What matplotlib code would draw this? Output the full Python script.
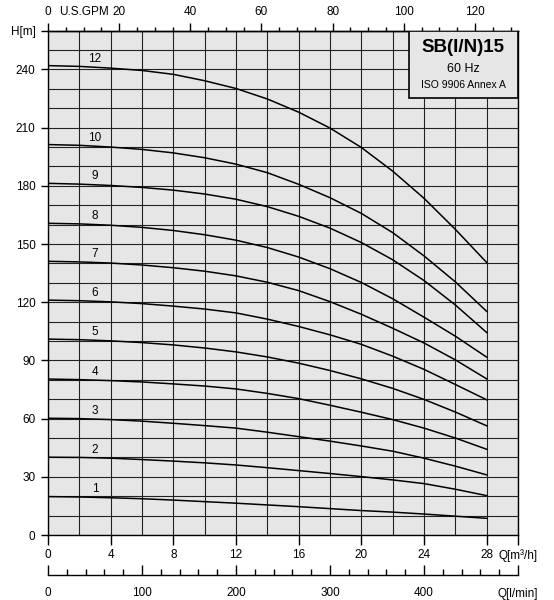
import matplotlib
matplotlib.use("Agg")
import matplotlib.pyplot as plt
from matplotlib.ticker import MultipleLocator
from matplotlib.patches import Rectangle

plt.rcParams['font.family'] = ['Liberation Sans', 'DejaVu Sans']
plt.rcParams['font.size'] = 8.5

# flow points [m3/h]
q = [0, 2, 4, 6, 8, 10, 12, 14, 16, 18, 20, 22, 24, 26, 28]

# head [m] for each number of stages
h1 = [19.8, 19.6, 19.2, 18.7, 18.0, 17.2, 16.4, 15.5, 14.6, 13.6, 12.6, 11.8, 10.8, 9.7, 8.6]
h2 = [40.1, 40.0, 39.6, 38.9, 38.1, 37.2, 36.1, 34.7, 33.2, 31.7, 30.1, 28.4, 26.5, 23.6, 20.3]
h3 = [60.2, 60.0, 59.5, 58.7, 57.6, 56.4, 55.1, 53.0, 50.7, 48.4, 45.9, 43.2, 39.6, 35.5, 31.0]
h4 = [80.4, 80.1, 79.6, 78.9, 77.9, 76.8, 75.3, 73.0, 70.3, 66.9, 63.3, 59.5, 55.1, 50.0, 44.2]
h5 = [101.0, 100.7, 100.1, 99.2, 98.0, 96.4, 94.4, 91.8, 88.6, 84.8, 80.5, 75.6, 69.9, 63.4, 56.3]
h6 = [121.1, 120.8, 120.2, 119.3, 118.0, 116.5, 114.5, 111.3, 107.5, 103.2, 98.3, 92.2, 85.4, 77.6, 69.7]
h7 = [141.1, 140.8, 140.2, 139.2, 137.8, 136.0, 133.6, 130.3, 126.0, 120.3, 113.8, 106.6, 99.0, 90.3, 80.5]
h8 = [160.7, 160.4, 159.7, 158.6, 157.0, 154.8, 152.0, 148.2, 143.3, 137.3, 130.2, 121.8, 112.3, 102.5, 91.7]
h9 = [181.3, 180.9, 180.2, 179.2, 177.8, 175.8, 173.1, 169.3, 164.3, 158.2, 150.8, 141.9, 131.2, 118.6, 104.4]
h10 = [201.3, 200.9, 200.0, 198.8, 197.0, 194.5, 191.2, 186.8, 180.8, 173.9, 165.8, 155.9, 143.9, 130.5, 115.3]
h12 = [242.0, 241.6, 240.7, 239.5, 237.5, 234.2, 230.2, 224.8, 218.0, 209.8, 199.8, 187.6, 173.6, 157.6, 140.5]

stages = ['1', '2', '3', '4', '5', '6', '7', '8', '9', '10', '12']
curves = [h1, h2, h3, h4, h5, h6, h7, h8, h9, h10, h12]

q_ticks = [0, 4, 8, 12, 16, 20, 24, 28, 30]
q_labels = ['0', '4', '8', '12', '16', '20', '24', '28', 'Q[m\u00b3/h]']
h_ticks = [0, 30, 60, 90, 120, 150, 180, 210, 240, 260]
h_labels = ['0', '30', '60', '90', '120', '150', '180', '210', '240', 'H[m]']
gpm_ticks = [0, 20, 40, 60, 80, 100, 120]
lmin_ticks = [0, 100, 200, 300, 400, 500]
lmin_labels = ['0', '100', '200', '300', '400', 'Q[l/min]']

GPM_PER_M3H = 4.40287

fig = plt.figure(figsize=(5.54, 6.0), dpi=100)
ax = fig.add_axes([48/554, 65/600, 470/554, 504.3/600])
ax.set_facecolor('#e6e6e6')
ax.set_xlim(0, 30)
ax.set_ylim(0, 260)

ax.set_xticks(q_ticks)
ax.set_xticklabels(q_labels)
ax.set_xticks(range(0, 31, 2), minor=True)
ax.set_yticks(h_ticks)
ax.set_yticklabels(h_labels)
ax.set_yticks(range(0, 261, 10), minor=True)
ax.tick_params(which='major', direction='out', width=1, color='black')
ax.tick_params(axis='x', which='major', length=7, pad=3)
ax.tick_params(axis='y', which='major', length=5, pad=4)
ax.tick_params(which='minor', length=0)
ax.grid(which='both', color='#222222', linewidth=0.8)
ax.set_axisbelow(True)
for s in ax.spines.values():
    s.set_color('black')
    s.set_linewidth(1)

for lab, h in zip(stages, curves):
    ax.plot(q, h, color='black', linewidth=1.1, zorder=2)
    ax.text(3, h[1] + 4, lab, ha='center', va='center', zorder=2)

# top axis in U.S. GPM
sec = ax.secondary_xaxis('top', functions=(lambda x: x * GPM_PER_M3H, lambda g: g / GPM_PER_M3H))
sec.set_xticks(gpm_ticks)
sec.xaxis.set_minor_locator(MultipleLocator(5))
sec.tick_params(which='major', length=5.5, width=1, pad=3.5)
sec.tick_params(which='minor', length=3, width=1)
sec.spines['top'].set_linewidth(1)
ax.annotate('U.S.GPM', xy=(10 / GPM_PER_M3H, 1), xycoords=('data', 'axes fraction'),
            xytext=(0, 9), textcoords='offset points', ha='center', va='bottom')

# bottom axis in l/min
ax3 = fig.add_axes([48/554, 25/600, 470/554, 0.0001])
ax3.set_xlim(0, 500)
ax3.set_yticks([])
ax3.patch.set_visible(False)
for side in ['top', 'left', 'right']:
    ax3.spines[side].set_visible(False)
ax3.spines['bottom'].set_linewidth(1)
ax3.set_xticks(lmin_ticks)
ax3.set_xticklabels(lmin_labels)
ax3.xaxis.set_minor_locator(MultipleLocator(20))
ax3.tick_params(which='major', direction='in', length=7, width=1, pad=9)
ax3.tick_params(which='minor', direction='in', length=4.5, width=1)

# title box
ax.add_patch(Rectangle((23.05, 225.5), 6.95, 34.5, facecolor='#e6e6e6', edgecolor='black',
                       linewidth=1.2, zorder=3))
ax.text(26.5, 251.2, 'SB(I/N)15', ha='center', va='center', fontsize=13.5, fontweight='bold', zorder=4)
ax.text(26.5, 240.4, '60 Hz', ha='center', va='center', fontsize=9, zorder=4)
ax.text(26.5, 231.9, 'ISO 9906 Annex A', ha='center', va='center', fontsize=7.5, zorder=4)

fig.savefig('out.png', dpi=100)
